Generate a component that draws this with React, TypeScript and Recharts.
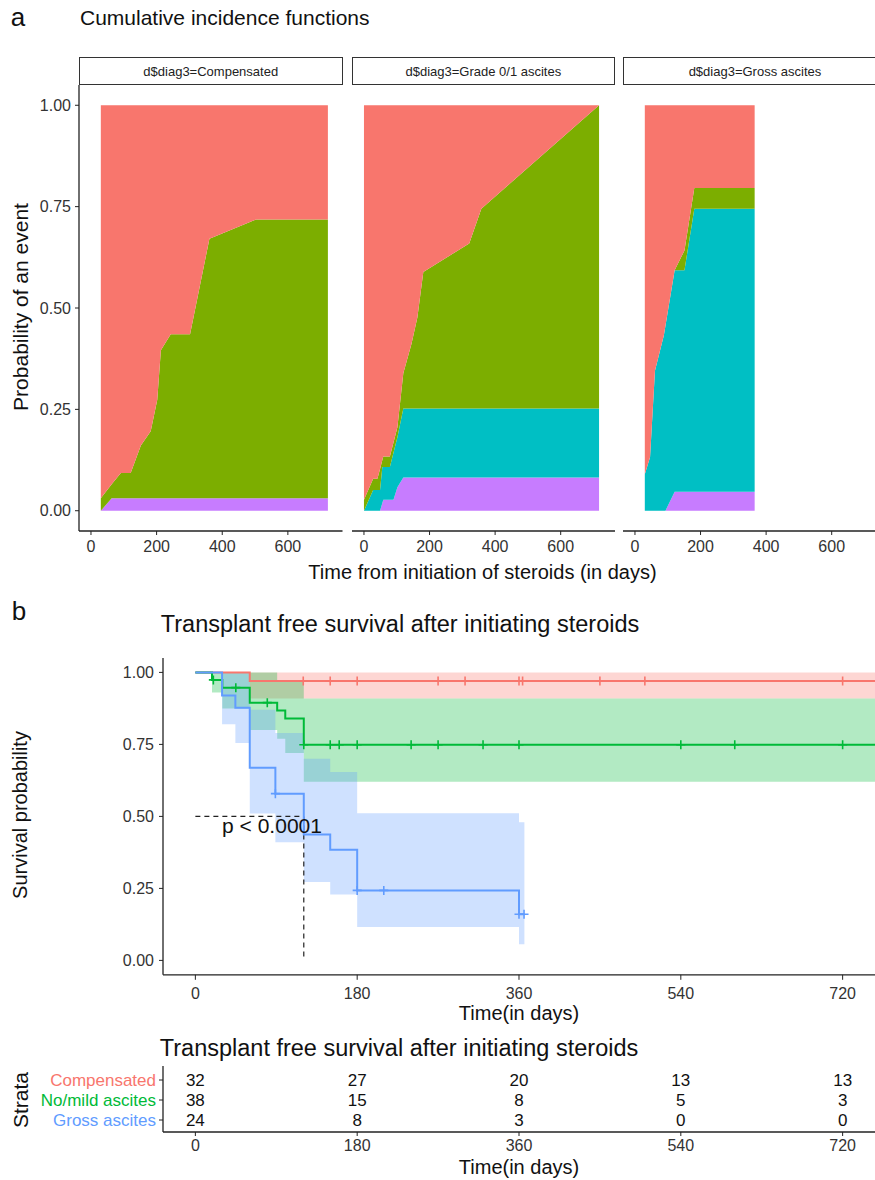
import React from 'react';
import { AreaChart, Area, ComposedChart, Line, XAxis, YAxis, ReferenceLine } from 'recharts';

// ---- panel a: cumulative incidence, one stacked area per facet ----
const facetTicks = [0, 200, 400, 600];

const compDays = [30, 63, 91, 121, 152, 182, 202, 213, 243, 302, 361, 503, 722];
const compPurple = [0, 0.031, 0.031, 0.031, 0.031, 0.031, 0.031, 0.031, 0.031, 0.031, 0.031, 0.031, 0.031];
const compCyan = [0, 0, 0, 0, 0, 0, 0, 0, 0, 0, 0, 0, 0];
const compGreen = [0.031, 0.034, 0.062, 0.062, 0.13, 0.165, 0.243, 0.365, 0.404, 0.404, 0.64, 0.687, 0.687];
const compRed = [0.969, 0.935, 0.907, 0.907, 0.839, 0.804, 0.726, 0.604, 0.565, 0.565, 0.329, 0.282, 0.282];

const gradeDays = [0, 28, 41, 49, 56, 59, 79, 90, 102, 120, 145, 163, 181, 321, 358, 717];
const gradePurple = [0, 0, 0, 0, 0.019, 0.027, 0.027, 0.027, 0.058, 0.082, 0.082, 0.082, 0.082, 0.082, 0.082, 0.082];
const gradeCyan = [0, 0.051, 0.051, 0.051, 0.089, 0.081, 0.081, 0.116, 0.123, 0.17, 0.17, 0.17, 0.17, 0.17, 0.17, 0.17];
const gradeGreen = [0.027, 0.028, 0.028, 0.052, 0.017, 0.026, 0.026, 0.025, 0.025, 0.087, 0.16, 0.225, 0.337, 0.407, 0.493, 0.748];
const gradeRed = [0.973, 0.921, 0.921, 0.897, 0.875, 0.866, 0.866, 0.832, 0.794, 0.661, 0.588, 0.523, 0.411, 0.341, 0.255, 0];

const grossDays = [30, 46, 61, 88, 93, 121, 151, 181, 365];
const grossPurple = [0, 0, 0, 0, 0, 0.047, 0.047, 0.047, 0.047];
const grossCyan = [0.09, 0.132, 0.345, 0.432, 0.456, 0.546, 0.546, 0.698, 0.698];
const grossGreen = [0, 0, 0, 0, 0, 0, 0.049, 0.051, 0.051];
const grossRed = [0.91, 0.868, 0.655, 0.568, 0.544, 0.407, 0.358, 0.204, 0.204];

// ---- panel b: Kaplan-Meier ----
const kmTicks = [0, 180, 360, 540, 720];

const compT = [0, 60.5, 760];
const compS = [1, 0.97, 0.97];
const compLow = [1, 0.909, 0.909];
const compHigh = [1, 1, 1];
const compCensT = [120, 150, 180, 270, 300, 360, 364, 450, 500, 720];
const compCensS = [0.97, 0.97, 0.97, 0.97, 0.97, 0.97, 0.97, 0.97, 0.97, 0.97];

const mildT = [0, 18.5, 30, 60.5, 91, 100, 120.6, 760];
const mildS = [1, 0.974, 0.947, 0.895, 0.868, 0.84, 0.749, 0.749];
const mildLow = [1, 0.93, 0.875, 0.8, 0.77, 0.72, 0.62, 0.62];
const mildHigh = [1, 1, 1, 1, 0.97, 0.97, 0.909, 0.909];
const mildCensT = [20, 45, 80, 120.6, 150, 160, 180, 240, 270, 320, 360, 540, 600, 720];
const mildCensS = [0.974, 0.947, 0.895, 0.749, 0.749, 0.749, 0.749, 0.749, 0.749, 0.749, 0.749, 0.749, 0.749, 0.749];

const grossT = [0, 29.7, 44.5, 60.5, 89, 120.6, 150, 180, 360, 366];
const grossS = [1, 0.92, 0.877, 0.669, 0.579, 0.4375, 0.384, 0.243, 0.16, 0.16];
const grossLow = [1, 0.82, 0.755, 0.51, 0.41, 0.272, 0.229, 0.116, 0.056, 0.056];
const grossHigh = [1, 1, 1, 0.87, 0.79, 0.7, 0.654, 0.511, 0.48, 0.48];
const grossCensT = [89, 180, 209.6, 360, 365.6];
const grossCensS = [0.579, 0.243, 0.243, 0.16, 0.16];

const medianDay = 120.6;

// ---- risk table ----
const riskTimes = [0, 180, 360, 540, 720];
const riskComp = [32, 27, 20, 13, 13];
const riskMild = [38, 15, 8, 5, 3];
const riskGross = [24, 8, 3, 0, 0];
const strataNames = ['Gross ascites', 'No/mild ascites', 'Compensated'];

const RED = '#F8766D';
const GREEN = '#00BA38';
const BLUE = '#619CFF';
const FONT = '"Liberation Sans", Arial, sans-serif';
const AX = '#222';

const tickStyle = { fontSize: 16, fill: '#333', fontFamily: FONT };

function Txt({ x, y, size, rotate = 0, color = '#111', children }: any) {
  return (
    <div
      style={{
        position: 'absolute', left: x, top: y, fontSize: size, color, fontFamily: FONT,
        whiteSpace: 'nowrap', lineHeight: 1, transform: `translate(-50%, -50%) rotate(${rotate}deg)`,
      }}
    >
      {children}
    </div>
  );
}

function Facet({ left, width, withY, strip, t, purple, cyan, green, red }: any) {
  const rows = t.map((d: number, i: number) => ({ t: d, purple: purple[i], cyan: cyan[i], green: green[i], red: red[i] }));
  const plotLeft = withY ? left + 79 : left;
  const plotWidth = withY ? width - 79 : width;
  return (
    <>
      <div
        style={{
          position: 'absolute', left: plotLeft, top: 57, width: plotWidth, height: 28, boxSizing: 'border-box',
          border: '1.4px solid #333', display: 'flex', alignItems: 'center', justifyContent: 'center',
          fontSize: 13, fontFamily: FONT, color: '#222',
        }}
      >
        {strip}
      </div>
      <div style={{ position: 'absolute', left, top: 85 }}>
        <AreaChart width={width} height={476} data={rows} margin={{ top: 0, right: 0, bottom: 0, left: 0 }}>
          <XAxis
            type="number" dataKey="t" domain={[-36.5, 766.5]} ticks={facetTicks} allowDataOverflow interval={0}
            height={30} tickSize={4} tickMargin={6} tick={tickStyle}
            axisLine={{ stroke: AX, strokeWidth: 1.3 }} tickLine={{ stroke: AX }}
          />
          <YAxis
            type="number" domain={[-0.05, 1.05]} ticks={[0, 0.25, 0.5, 0.75, 1]} allowDataOverflow interval={0}
            hide={!withY} width={79} tickSize={4} tickMargin={4} tick={tickStyle}
            tickFormatter={(v: number) => v.toFixed(2)}
            axisLine={{ stroke: AX, strokeWidth: 1.3 }} tickLine={{ stroke: AX }}
          />
          <Area type="linear" dataKey="purple" stackId="1" stroke="none" fill="#C77CFF" fillOpacity={1} isAnimationActive={false} />
          <Area type="linear" dataKey="cyan" stackId="1" stroke="none" fill="#00BFC4" fillOpacity={1} isAnimationActive={false} />
          <Area type="linear" dataKey="green" stackId="1" stroke="none" fill="#7CAE00" fillOpacity={1} isAnimationActive={false} />
          <Area type="linear" dataKey="red" stackId="1" stroke="none" fill="#F8766D" fillOpacity={1} isAnimationActive={false} />
        </AreaChart>
      </div>
    </>
  );
}

const curve = (t: number[], s: number[]) => t.map((d, i) => ({ t: d, s: s[i] }));
const band = (t: number[], lo: number[], hi: number[]) => t.map((d, i) => ({ t: d, band: [lo[i], hi[i]] }));

const plus = (color: string) => (props: any) => {
  const { cx, cy, index } = props;
  if (cx == null || cy == null) return <g key={index} />;
  return (
    <g key={index}>
      <line x1={cx - 4.5} x2={cx + 4.5} y1={cy} y2={cy} stroke={color} strokeWidth={1.6} />
      <line x1={cx} x2={cx} y1={cy - 4.5} y2={cy + 4.5} stroke={color} strokeWidth={1.6} />
    </g>
  );
};

const countDot = (props: any) => {
  const { cx, cy, index, payload } = props;
  if (cx == null || cy == null) return <g key={index} />;
  return (
    <text key={index} x={cx} y={cy} dy={6} textAnchor="middle" fontSize={17} fontFamily={FONT} fill="#111">
      {payload.n}
    </text>
  );
};

const strataColors = [BLUE, GREEN, RED];
const StrataTick = (props: any) => {
  const { x, y, payload } = props;
  const i = payload.value - 1;
  return (
    <text x={x} y={y} dy={6} textAnchor="end" fontSize={17} fontFamily={FONT} fill={strataColors[i]}>
      {strataNames[i]}
    </text>
  );
};

export default function App() {
  const riskRow = (vals: number[], row: number) => riskTimes.map((t, i) => ({ t, s: row, n: vals[i] }));
  return (
    <div style={{ position: 'absolute', left: 0, top: 0, width: 875, height: 1180, overflow: 'hidden', background: '#fff' }}>
      {/* panel a */}
      <Txt x={18} y={17} size={26}>a</Txt>
      <div style={{ position: 'absolute', left: 80, top: 6, fontSize: 21, fontFamily: FONT, color: '#111', whiteSpace: 'nowrap' }}>
        Cumulative incidence functions
      </div>
      <Txt x={20} y={307} size={21} rotate={-90}>Probability of an event</Txt>
      <Facet left={0} width={342.5} withY strip="d$diag3=Compensated"
        t={compDays} purple={compPurple} cyan={compCyan} green={compGreen} red={compRed} />
      <Facet left={351.7} width={263.3} withY={false} strip="d$diag3=Grade 0/1 ascites"
        t={gradeDays} purple={gradePurple} cyan={gradeCyan} green={gradeGreen} red={gradeRed} />
      <Facet left={623.3} width={263.3} withY={false} strip="d$diag3=Gross ascites"
        t={grossDays} purple={grossPurple} cyan={grossCyan} green={grossGreen} red={grossRed} />
      <Txt x={482.5} y={572} size={20}>Time from initiation of steroids (in days)</Txt>

      {/* panel b */}
      <Txt x={19} y={611} size={26}>b</Txt>
      <Txt x={400} y={625} size={23.5}>Transplant free survival after initiating steroids</Txt>
      <Txt x={20} y={815} size={20} rotate={-90}>Survival probability</Txt>
      <div style={{ position: 'absolute', left: 0, top: 657.6 }}>
        <ComposedChart width={875} height={346.8} margin={{ top: 0, right: 0, bottom: 0, left: 0 }}>
          <XAxis
            type="number" dataKey="t" domain={[-36, 756]} ticks={kmTicks} allowDataOverflow interval={0}
            height={30} tickSize={5} tickMargin={8} tick={tickStyle}
            axisLine={{ stroke: AX, strokeWidth: 1.3 }} tickLine={{ stroke: AX }}
          />
          <YAxis
            type="number" domain={[-0.05, 1.05]} ticks={[0, 0.25, 0.5, 0.75, 1]} allowDataOverflow interval={0}
            width={163} tickSize={4} tickMargin={5} tick={tickStyle}
            tickFormatter={(v: number) => v.toFixed(2)}
            axisLine={{ stroke: AX, strokeWidth: 1.3 }} tickLine={{ stroke: AX }}
          />
          <Area data={band(compT, compLow, compHigh)} type="stepAfter" dataKey="band" stroke="none" fill={RED} fillOpacity={0.3} isAnimationActive={false} />
          <Area data={band(mildT, mildLow, mildHigh)} type="stepAfter" dataKey="band" stroke="none" fill={GREEN} fillOpacity={0.3} isAnimationActive={false} />
          <Area data={band(grossT, grossLow, grossHigh)} type="stepAfter" dataKey="band" stroke="none" fill={BLUE} fillOpacity={0.3} isAnimationActive={false} />
          <ReferenceLine segment={[{ x: 0, y: 0.5 }, { x: medianDay, y: 0.5 }]} stroke="#222" strokeWidth={1.2} strokeDasharray="5 4" />
          <ReferenceLine segment={[{ x: medianDay, y: 0.5 }, { x: medianDay, y: 0 }]} stroke="#222" strokeWidth={1.2} strokeDasharray="5 4" />
          <Line data={curve(compT, compS)} type="stepAfter" dataKey="s" stroke={RED} strokeWidth={2} dot={false} activeDot={false} isAnimationActive={false} />
          <Line data={curve(mildT, mildS)} type="stepAfter" dataKey="s" stroke={GREEN} strokeWidth={2} dot={false} activeDot={false} isAnimationActive={false} />
          <Line data={curve(grossT, grossS)} type="stepAfter" dataKey="s" stroke={BLUE} strokeWidth={2} dot={false} activeDot={false} isAnimationActive={false} />
          <Line data={curve(compCensT, compCensS)} dataKey="s" stroke="none" dot={plus(RED)} activeDot={false} isAnimationActive={false} />
          <Line data={curve(mildCensT, mildCensS)} dataKey="s" stroke="none" dot={plus(GREEN)} activeDot={false} isAnimationActive={false} />
          <Line data={curve(grossCensT, grossCensS)} dataKey="s" stroke="none" dot={plus(BLUE)} activeDot={false} isAnimationActive={false} />
        </ComposedChart>
      </div>
      <Txt x={272} y={825} size={21}>p &lt; 0.0001</Txt>
      <Txt x={519} y={1013} size={20}>Time(in days)</Txt>

      {/* risk table */}
      <Txt x={399} y={1049} size={23.5}>Transplant free survival after initiating steroids</Txt>
      <Txt x={20} y={1100} size={21} rotate={-90}>Strata</Txt>
      <div style={{ position: 'absolute', left: 0, top: 1066 }}>
        <ComposedChart width={875} height={96} margin={{ top: 0, right: 0, bottom: 0, left: 0 }}>
          <XAxis
            type="number" dataKey="t" domain={[-36, 756]} ticks={kmTicks} allowDataOverflow interval={0}
            height={30} tickSize={4} tickMargin={4} tick={tickStyle}
            axisLine={{ stroke: AX, strokeWidth: 1.3 }} tickLine={{ stroke: AX }}
          />
          <YAxis
            type="number" domain={[0.4, 3.7]} ticks={[1, 2, 3]} allowDataOverflow interval={0}
            width={163} tickSize={4} tickMargin={3} tick={<StrataTick />}
            axisLine={{ stroke: AX, strokeWidth: 1.3 }} tickLine={{ stroke: AX }}
          />
          <Line data={riskRow(riskComp, 3)} dataKey="s" stroke="none" dot={countDot} activeDot={false} isAnimationActive={false} />
          <Line data={riskRow(riskMild, 2)} dataKey="s" stroke="none" dot={countDot} activeDot={false} isAnimationActive={false} />
          <Line data={riskRow(riskGross, 1)} dataKey="s" stroke="none" dot={countDot} activeDot={false} isAnimationActive={false} />
        </ComposedChart>
      </div>
      <Txt x={519} y={1167} size={20}>Time(in days)</Txt>
    </div>
  );
}
